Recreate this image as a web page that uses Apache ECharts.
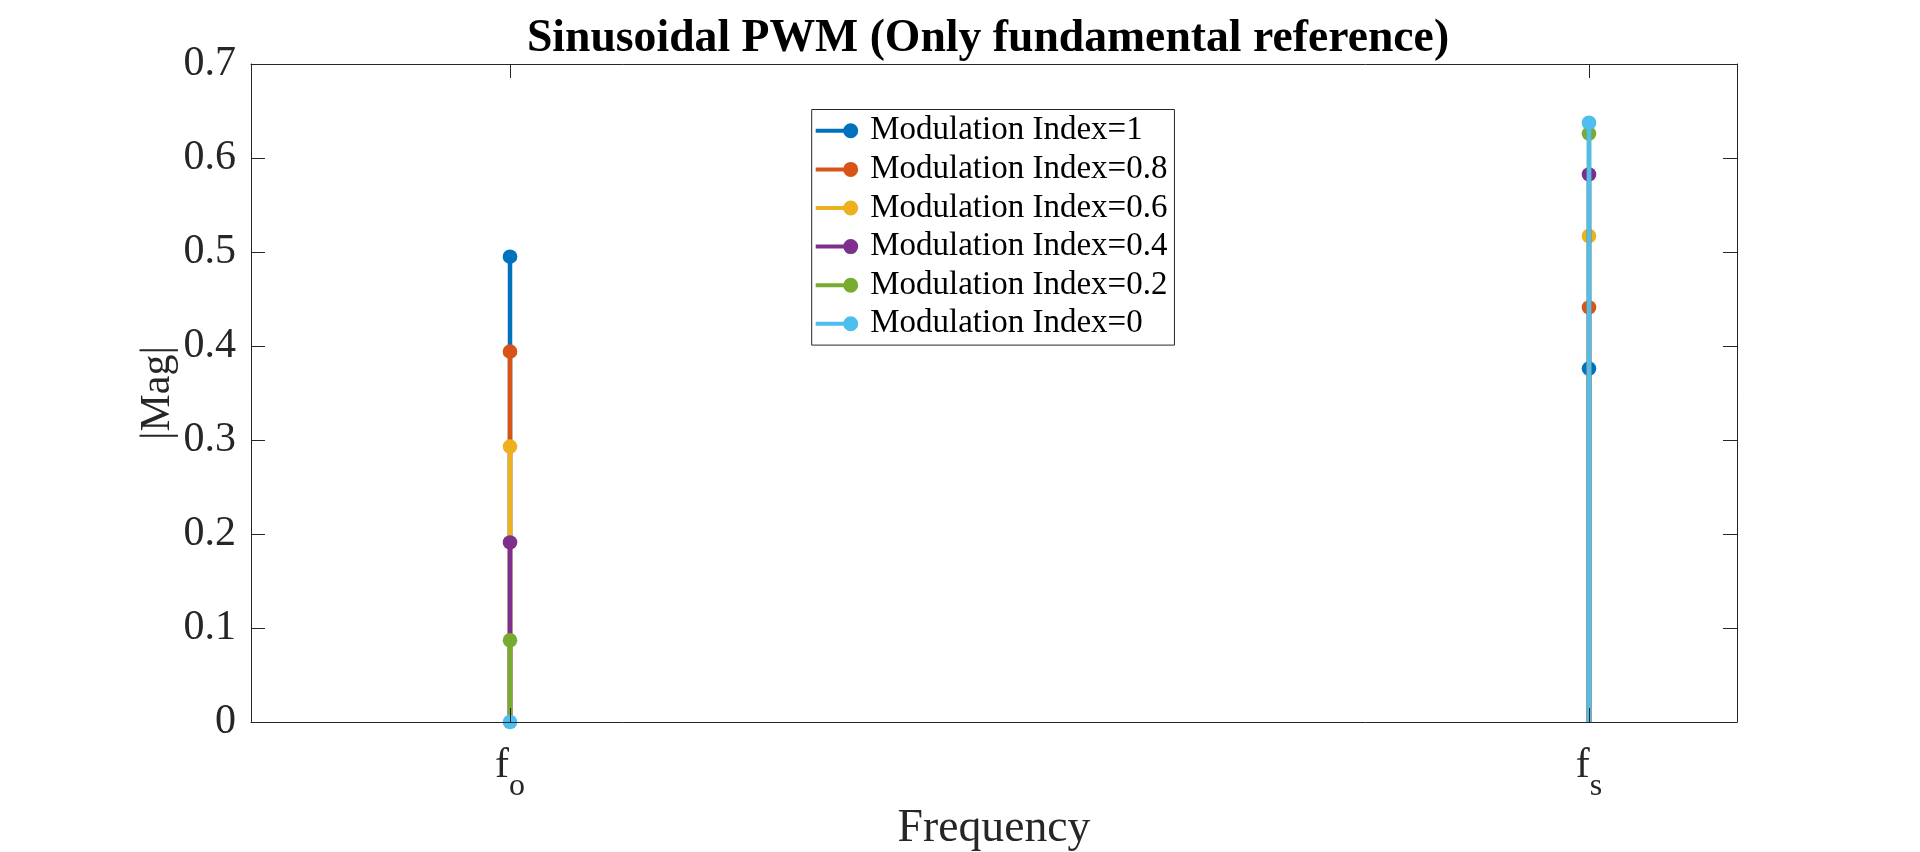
<!DOCTYPE html>
<html>
<head>
<meta charset="utf-8">
<script src="https://cdn.jsdelivr.net/npm/echarts@6/dist/echarts.min.js"></script>
<style>
html,body{margin:0;padding:0;background:#fff;}
#chart{width:1920px;height:852px;}
</style>
</head>
<body>
<div id="chart"></div>
<script>
// ---- data ----
const xPositions = [17.43, 90.04];          // f_o and f_s along the frequency axis
const xTickMain = ['f', 'f'];
const xTickSub = ['o', 's'];
const seriesNames = [
  'Modulation Index=1',
  'Modulation Index=0.8',
  'Modulation Index=0.6',
  'Modulation Index=0.4',
  'Modulation Index=0.2',
  'Modulation Index=0'
];
const magMI1  = [0.495, 0.376];
const magMI08 = [0.394, 0.441];
const magMI06 = [0.293, 0.517];
const magMI04 = [0.191, 0.5825];
const magMI02 = [0.087, 0.626];
const magMI0  = [0.000, 0.6375];
const seriesValues = [magMI1, magMI08, magMI06, magMI04, magMI02, magMI0];
const yTicks = [0, 0.1, 0.2, 0.3, 0.4, 0.5, 0.6, 0.7];
const colors = ['#0072BD', '#D95319', '#EDB120', '#7E2F8E', '#77AC30', '#4DBEEE'];

const AX = '#262626';
const FONT = '"Liberation Serif", "Times New Roman", serif';
const legendIcon = 'path://M0,5.5H35V9.5H0Z M27.5,7.5A7.5,7.5,0,1,1,42.5,7.5A7.5,7.5,0,1,1,27.5,7.5Z';

function stemRender(params, api) {
  const x = api.value(0), y = api.value(1);
  const p0 = api.coord([x, 0]);
  const p1 = api.coord([x, y]);
  const c = api.visual('color');
  return {
    type: 'group',
    children: [
      { type: 'line', shape: { x1: p0[0], y1: p0[1], x2: p1[0], y2: p1[1] },
        style: { stroke: c, lineWidth: 4.5 } },
      { type: 'circle', shape: { cx: p1[0], cy: p1[1], r: 7.3 },
        style: { fill: c } }
    ]
  };
}

const series = seriesNames.map((name, i) => ({
  name: name,
  type: 'custom',
  renderItem: stemRender,
  xAxisIndex: 0,
  yAxisIndex: 0,
  encode: { x: 0, y: 1 },
  itemStyle: { color: colors[i] },
  data: xPositions.map((x, j) => [x, seriesValues[i][j]])
}));

function xLabel(v) {
  let best = 0;
  for (let i = 1; i < xPositions.length; i++) {
    if (Math.abs(xPositions[i] - v) < Math.abs(xPositions[best] - v)) best = i;
  }
  return '{f|' + xTickMain[best] + '}{s|' + xTickSub[best] + '}';
}

const chart = echarts.init(document.getElementById('chart'), null, { renderer: 'canvas' });
const option = {
  animation: false,
  backgroundColor: '#fff',
  color: colors,
  title: {
    text: 'Sinusoidal PWM (Only fundamental reference)',
    left: 988,
    top: 16,
    textAlign: 'center',
    padding: 0,
    textStyle: { fontFamily: FONT, fontSize: 45.7, fontWeight: 'bold', color: '#000', lineHeight: 45.7 }
  },
  grid: { left: 251, right: 183, top: 64, bottom: 130, containLabel: false, outerBoundsMode: 'none' },
  legend: {
    orient: 'vertical',
    left: 811.7,
    top: 109.5,
    padding: [2, 7, 2, 4],
    itemGap: 0,
    itemWidth: 42.5,
    itemHeight: 15,
    borderColor: AX,
    borderWidth: 1,
    backgroundColor: '#fff',
    data: seriesNames.map(n => ({ name: n, icon: legendIcon })),
    textStyle: { fontFamily: FONT, fontSize: 33, color: '#000', lineHeight: 38.6, padding: [0, 0, 0, 7] }
  },
  xAxis: [
    {
      type: 'value', position: 'bottom', min: 0, max: 100, z: 3,
      name: 'Frequency', nameLocation: 'middle', nameGap: 84, nameMoveOverlap: false,
      nameTextStyle: { fontFamily: FONT, fontSize: 45.7, color: AX, lineHeight: 45.7 },
      axisLine: { show: true, onZero: false, lineStyle: { color: AX, width: 1 } },
      axisTick: { show: true, inside: true, length: 14, customValues: xPositions, lineStyle: { color: AX, width: 1 } },
      axisLabel: {
        show: true, margin: 23, customValues: xPositions, formatter: xLabel,
        color: AX, fontFamily: FONT,
        rich: {
          f: { fontFamily: FONT, fontSize: 42, lineHeight: 42, color: AX, verticalAlign: 'top' },
          s: { fontFamily: FONT, fontSize: 32, lineHeight: 32, color: AX, verticalAlign: 'top', padding: [26, 0, 0, 0] }
        }
      },
      splitLine: { show: false }
    },
    {
      type: 'value', position: 'top', min: 0, max: 100, z: 3,
      axisLine: { show: true, onZero: false, lineStyle: { color: AX, width: 1 } },
      axisTick: { show: true, inside: true, length: 14, customValues: xPositions, lineStyle: { color: AX, width: 1 } },
      axisLabel: { show: false },
      splitLine: { show: false }
    }
  ],
  yAxis: [
    {
      type: 'value', position: 'left', min: 0, max: 0.7, interval: 0.1, z: 3,
      name: '|Mag|', nameLocation: 'middle', nameGap: 72, nameRotate: 90, nameMoveOverlap: false,
      nameTextStyle: { fontFamily: FONT, fontSize: 42, color: AX, lineHeight: 42 },
      axisLine: { show: true, onZero: false, lineStyle: { color: AX, width: 1 } },
      axisTick: { show: true, inside: true, length: 14, lineStyle: { color: AX, width: 1 } },
      axisLabel: {
        show: true, margin: 15, color: AX, fontFamily: FONT, fontSize: 42,
        customValues: yTicks,
        formatter: v => (Math.abs(v) < 1e-9 ? '0' : (+v).toFixed(1))
      },
      splitLine: { show: false }
    },
    {
      type: 'value', position: 'right', min: 0, max: 0.7, interval: 0.1, z: 3,
      axisLine: { show: true, onZero: false, lineStyle: { color: AX, width: 1 } },
      axisTick: { show: true, inside: true, length: 14, lineStyle: { color: AX, width: 1 } },
      axisLabel: { show: false },
      splitLine: { show: false }
    }
  ],
  series: series
};
chart.setOption(option);
</script>
</body>
</html>
